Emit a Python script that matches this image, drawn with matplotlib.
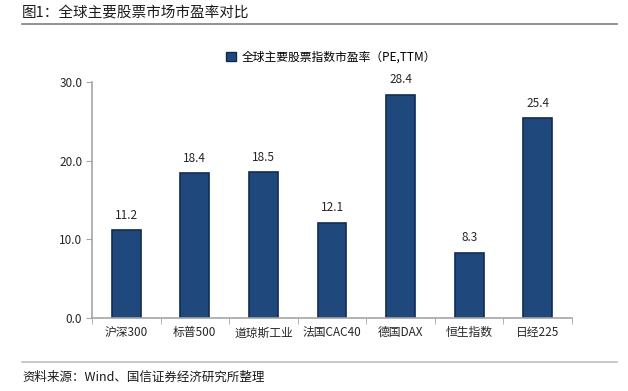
import matplotlib.pyplot as plt
from matplotlib.lines import Line2D
from matplotlib.patches import Patch

plt.rcParams['font.family'] = ['Noto Sans CJK SC', 'DejaVu Sans']

categories = ['沪深300', '标普500', '道琼斯工业', '法国CAC40', '德国DAX', '恒生指数', '日经225']
pe_values = [11.2, 18.4, 18.5, 12.1, 28.4, 8.3, 25.4]
yticks = [0, 10, 20, 30]
title = '图1：全球主要股票市场市盈率对比'
legend_label = '全球主要股票指数市盈率（PE,TTM）'
footnote = '资料来源：Wind、国信证券经济研究所整理'

bar_color = '#1F497D'
edge_color = '#0F2A5A'
axis_color = '#A6A6A6'
W, H = 628, 391

fig = plt.figure(figsize=(6.28, 3.91), dpi=100)
ax = fig.add_axes([92 / W, 1 - 318 / H, 480 / W, 236 / H])

x = list(range(len(categories)))
bars = ax.bar(x, pe_values, width=0.42, color=bar_color, edgecolor=edge_color, linewidth=1.2)
ax.bar_label(bars, labels=[f'{v:.1f}' for v in pe_values], padding=6, fontsize=8.5, color='#262626')

ax.set_xlim(-0.5, len(categories) - 0.5)
ax.set_ylim(0, 30)
ax.set_yticks(yticks)
ax.set_yticklabels([f'{v:.1f}' for v in yticks], fontsize=8.5, color='#262626')
ax.set_xticks(x)
ax.set_xticklabels(categories, fontsize=8.5, color='#262626')
ax.set_xticks([i - 0.5 for i in range(len(categories) + 1)], minor=True)
ax.tick_params(axis='x', which='major', length=0, pad=6)
ax.tick_params(axis='x', which='minor', length=4, color=axis_color, direction='out')
ax.tick_params(axis='y', length=4, color=axis_color, pad=3)

for s in ['top', 'right']:
    ax.spines[s].set_visible(False)
for s in ['left', 'bottom']:
    ax.spines[s].set_color(axis_color)
    ax.spines[s].set_linewidth(1.2)

handle = Patch(facecolor=bar_color, edgecolor=edge_color)
fig.legend(handles=[handle], labels=[legend_label], loc='center', bbox_to_anchor=(331 / W, 1 - 57 / H),
           frameon=False, fontsize=8.5, handlelength=0.8, handleheight=0.8, handletextpad=0.5)

fig.text(22 / W, 1 - 13 / H, title, fontsize=10.5, va='center', ha='left', color='#1a1a1a')
fig.add_artist(Line2D([22 / W, 617 / W], [1 - 24 / H, 1 - 24 / H], color='#808080', linewidth=1.2))
fig.add_artist(Line2D([22 / W, 617 / W], [1 - 362 / H, 1 - 362 / H], color='#BFBFBF', linewidth=1.2))
fig.text(22 / W, 1 - 377 / H, footnote, fontsize=9, va='center', ha='left', color='#1a1a1a')

fig.savefig('out.png', dpi=100)
